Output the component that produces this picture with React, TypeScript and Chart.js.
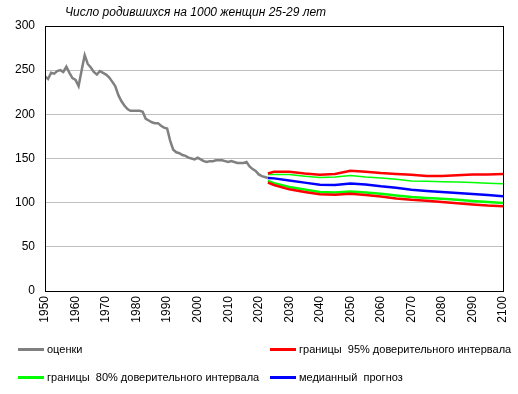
import React, { useEffect, useRef } from "react";
import { Chart, registerables } from "chart.js";

Chart.register(...registerables);

const titleText = "Число родившихся на 1000 женщин 25-29 лет";

const estYears = [
  1950, 1951, 1952, 1953, 1954, 1955, 1956, 1957, 1958, 1959,
  1960, 1961, 1962, 1963, 1964, 1965, 1966, 1967, 1968, 1969,
  1970, 1971, 1972, 1973, 1974, 1975, 1976, 1977, 1978, 1979,
  1980, 1981, 1982, 1983, 1984, 1985, 1986, 1987, 1988, 1989,
  1990, 1991, 1992, 1993, 1994, 1995, 1996, 1997, 1998, 1999,
  2000, 2001, 2002, 2003, 2004, 2005, 2006, 2007, 2008, 2009,
  2010, 2011, 2012, 2013, 2014, 2015, 2016, 2017, 2018, 2019,
  2020, 2021, 2022, 2023,
];
const estimates = [
  243, 240, 247, 246, 249, 250, 248, 254, 247, 241,
  239, 232, 250, 267, 257, 253, 248, 245, 249, 247,
  245, 242, 237, 232, 222, 215, 210, 206, 204, 204,
  204, 204, 203, 195, 193, 191, 190, 190, 187, 185,
  184, 170, 160, 157, 156, 154, 153, 151, 150, 149,
  151, 149, 147, 146, 147, 147, 148, 148, 148, 147,
  146, 147, 146, 145, 145, 145, 146, 141, 138, 136,
  132, 130, 129, 128,
];

const fcYears = [2023, 2025, 2030, 2035, 2040, 2045, 2050, 2055, 2060, 2065, 2070, 2075, 2080, 2085, 2090, 2095, 2100];
const upper95 = [133, 135, 135, 133, 131.5, 132.5, 136, 135, 133.5, 132.5, 131.5, 130.3, 130.3, 131, 132, 131.8, 132.5];
const upper80 = [131.8, 131.8, 131.8, 130, 128.5, 129, 130.7, 129, 128, 126.5, 124.5, 124.2, 123.8, 123.3, 122.7, 122, 121.5];
const median = [128, 127.5, 125, 122.7, 120.3, 120, 121.6, 120.5, 118.5, 117, 114.5, 113.3, 112.2, 111, 109.8, 108.6, 107.3];
const lower80 = [124.6, 122, 117.8, 114.8, 112, 111.5, 112.6, 111.5, 110, 108, 106.3, 105.2, 104.3, 103.3, 102, 100.8, 99.5];
const lower95 = [122.7, 120, 115.1, 112, 109.5, 109, 110.2, 108.8, 107, 104.7, 103.2, 102.2, 100.8, 99.4, 98, 96.8, 96];

const legendLabels = [
  "оценки",
  "границы  95% доверительного интервала",
  "границы  80% доверительного интервала",
  "медианный  прогноз",
];

const GRAY = "#808080";
const RED = "#ff0000";
const GREEN = "#00ff00";
const BLUE = "#0000ff";

const pts = (xs: number[], ys: number[]) => xs.map((x, i) => ({ x, y: ys[i] }));

const boxPlugin = {
  id: "box",
  afterDraw(chart: any) {
    const { ctx, chartArea } = chart;
    ctx.save();
    ctx.strokeStyle = "#000";
    ctx.lineWidth = 1;
    ctx.strokeRect(
      Math.round(chartArea.left) + 0.5,
      Math.round(chartArea.top) + 0.5,
      Math.round(chartArea.right - chartArea.left),
      Math.round(chartArea.bottom - chartArea.top)
    );
    ctx.restore();
  },
};

export default function App() {
  const ref = useRef<HTMLCanvasElement>(null);
  useEffect(() => {
    if (!ref.current) return;
    const line = (label: string, data: any[], color: string, width: number) => ({
      label,
      data,
      borderColor: color,
      backgroundColor: color,
      borderWidth: width,
      pointRadius: 0,
      tension: 0,
      fill: false,
    });
    const chart = new Chart(ref.current, {
      type: "line",
      data: {
        datasets: [
          line(legendLabels[0], pts(estYears, estimates), GRAY, 2.5),
          line(legendLabels[1], pts(fcYears, upper95), RED, 2.5),
          line(legendLabels[1], pts(fcYears, lower95), RED, 2.5),
          line(legendLabels[2], pts(fcYears, upper80), GREEN, 1.5),
          line(legendLabels[2], pts(fcYears, lower80), GREEN, 2.5),
          line(legendLabels[3], pts(fcYears, median), BLUE, 2.5),
        ],
      },
      options: {
        responsive: false,
        animation: false,
        layout: { padding: { top: 26, right: 15, bottom: 64, left: 0 } },
        plugins: { legend: { display: false }, tooltip: { enabled: false }, title: { display: false } },
        scales: {
          x: {
            type: "linear",
            min: 1950,
            max: 2100,
            grid: { display: false, drawTicks: false },
            border: { display: false },
            ticks: {
              stepSize: 10,
              minRotation: 90,
              maxRotation: 90,
              padding: 5,
              color: "#000",
              font: { family: "'Liberation Sans', Arial, sans-serif", size: 12 },
              callback: (v: any) => String(v),
            },
            afterFit: (s: any) => {
              s.height = 39;
              s.paddingLeft = 0;
              s.paddingRight = 0;
            },
          },
          y: {
            min: 0,
            max: 300,
            grid: { color: "#c0c0c0", lineWidth: 1, drawTicks: false },
            border: { display: false },
            ticks: {
              stepSize: 50,
              padding: 10,
              color: "#000",
              font: { family: "'Liberation Sans', Arial, sans-serif", size: 12 },
            },
            afterFit: (s: any) => {
              s.width = 45;
              s.paddingTop = 0;
              s.paddingBottom = 0;
            },
          },
        },
      } as any,
      plugins: [boxPlugin],
    });
    return () => chart.destroy();
  }, []);

  const legendItem = (color: string, text: string, left: number, top: number) => (
    <div style={{ position: "absolute", left, top, height: 14, display: "flex", alignItems: "center", whiteSpace: "pre" }}>
      <div style={{ width: 26, height: 3, background: color, marginRight: 3 }} />
      <span style={{ fontFamily: "'Liberation Sans', Arial, sans-serif", fontSize: 11, color: "#000" }}>{text}</span>
    </div>
  );

  return (
    <div style={{ position: "fixed", left: 0, top: 0, width: 518, height: 394, background: "#fff" }}>
      <canvas ref={ref} width={518} height={394} style={{ position: "absolute", left: 0, top: 0 }} />
      <div
        style={{
          position: "absolute",
          left: 65,
          top: 5,
          fontFamily: "'Liberation Sans', Arial, sans-serif",
          fontSize: 12,
          fontStyle: "italic",
          color: "#000",
          whiteSpace: "nowrap",
        }}
      >
        {titleText}
      </div>
      {legendItem(GRAY, legendLabels[0], 18, 342)}
      {legendItem(RED, legendLabels[1], 270, 342)}
      {legendItem(GREEN, legendLabels[2], 18, 370)}
      {legendItem(BLUE, legendLabels[3], 270, 370)}
    </div>
  );
}
